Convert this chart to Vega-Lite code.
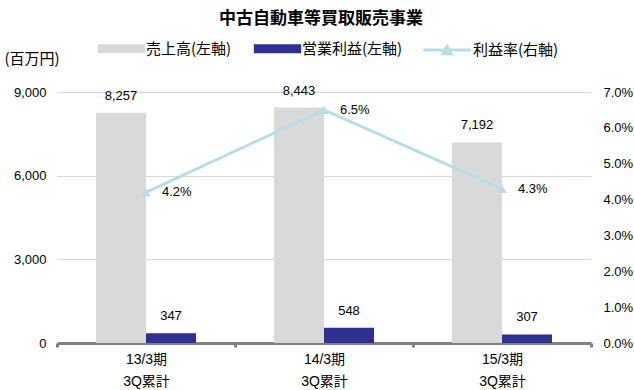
{
  "$schema": "https://vega.github.io/schema/vega-lite/v6.json",
  "width": 534,
  "height": 251,
  "autosize": "none",
  "padding": {"left": 57, "top": 92, "right": 43, "bottom": 47},
  "background": "white",
  "config": {
    "font": "Liberation Sans, Noto Sans CJK JP",
    "view": {"stroke": null}
  },
  "title": {
    "text": "中古自動車等買取販売事業",
    "font": "Noto Sans CJK JP",
    "fontSize": 17,
    "fontWeight": "bold",
    "color": "#000000",
    "anchor": "middle",
    "dx": -3,
    "offset": 2
  },
  "datasets": {
    "bars": [
      {"period": "13/3期 3Q累計", "series": "売上高(左軸)", "value": 8257},
      {"period": "13/3期 3Q累計", "series": "営業利益(左軸)", "value": 347},
      {"period": "14/3期 3Q累計", "series": "売上高(左軸)", "value": 8443},
      {"period": "14/3期 3Q累計", "series": "営業利益(左軸)", "value": 548},
      {"period": "15/3期 3Q累計", "series": "売上高(左軸)", "value": 7192},
      {"period": "15/3期 3Q累計", "series": "営業利益(左軸)", "value": 307}
    ],
    "rates": [
      {"period": "13/3期 3Q累計", "series": "利益率(右軸)", "rate": 0.042},
      {"period": "14/3期 3Q累計", "series": "利益率(右軸)", "rate": 0.065},
      {"period": "15/3期 3Q累計", "series": "利益率(右軸)", "rate": 0.043}
    ]
  },
  "encoding": {
    "x": {
      "field": "period",
      "type": "nominal",
      "sort": null,
      "scale": {"paddingInner": 0, "paddingOuter": 0},
      "axis": {
        "title": null,
        "labelAngle": 0,
        "labelExpr": "split(datum.label, ' ')",
        "labelFont": "Liberation Sans, Noto Sans CJK JP",
        "labelFontSize": 14,
        "labelColor": "#000000",
        "labelLineHeight": 22,
        "labelPadding": 5,
        "labelBaseline": "top",
        "domainColor": "#808080",
        "domainWidth": 3,
        "tickBand": "extent",
        "tickColor": "#808080",
        "tickWidth": 3,
        "tickSize": 4
      }
    }
  },
  "layer": [
    {
      "data": {"name": "bars"},
      "encoding": {
        "xOffset": {
          "field": "series",
          "type": "nominal",
          "sort": ["売上高(左軸)", "営業利益(左軸)"],
          "scale": {"paddingInner": 0, "paddingOuter": 0.78}
        },
        "y": {
          "field": "value",
          "type": "quantitative",
          "scale": {"domain": [0, 9000], "nice": false},
          "axis": {
            "title": "(百万円)",
            "titleAngle": 0,
            "titleAlign": "left",
            "titleBaseline": "middle",
            "titleX": -53,
            "titleY": -34,
            "titleFont": "Noto Sans CJK JP",
            "titleFontSize": 15,
            "titleFontWeight": "normal",
            "titleColor": "#000000",
            "values": [0, 3000, 6000, 9000],
            "format": ",d",
            "labelFontSize": 13,
            "labelColor": "#000000",
            "labelPadding": 11,
            "domain": false,
            "ticks": false,
            "grid": true,
            "gridColor": "#D9D9D9",
            "gridWidth": 1
          }
        }
      },
      "layer": [
        {
          "mark": {"type": "bar"},
          "encoding": {
            "color": {
              "field": "series",
              "type": "nominal",
              "scale": {
                "domain": ["売上高(左軸)", "営業利益(左軸)"],
                "range": ["#D9D9D9", "#2E3192"]
              },
              "legend": {
                "title": null,
                "orient": "none",
                "legendX": 46,
                "legendY": -62,
                "direction": "horizontal",
                "labelFont": "Noto Sans CJK JP",
                "labelFontSize": 15,
                "labelColor": "#000000",
                "labelOffset": 6,
                "columnPadding": 21,
                "symbolSize": 1369,
                "symbolStrokeWidth": 0,
                "encode": {
                  "symbols": {
                    "update": {
                      "shape": {"value": "M-1.28,-0.24H1.28V0.24H-1.28Z"},
                      "strokeWidth": {"value": 0}
                    }
                  }
                }
              }
            }
          }
        },
        {
          "mark": {"type": "text", "baseline": "middle", "dy": -17, "fontSize": 13, "color": "#000000"},
          "encoding": {
            "text": {"field": "value", "type": "quantitative", "format": ","}
          }
        }
      ]
    },
    {
      "data": {"name": "rates"},
      "encoding": {
        "y": {
          "field": "rate",
          "type": "quantitative",
          "scale": {"domain": [0, 0.07], "nice": false},
          "axis": {
            "orient": "right",
            "title": null,
            "values": [0, 0.01, 0.02, 0.03, 0.04, 0.05, 0.06, 0.07],
            "format": ".1%",
            "labelFontSize": 13,
            "labelColor": "#000000",
            "labelPadding": 12,
            "labelOverlap": false,
            "labelFlush": false,
            "labelBound": false,
            "domain": false,
            "ticks": false,
            "grid": false
          }
        }
      },
      "layer": [
        {
          "mark": {"type": "line", "strokeWidth": 3},
          "encoding": {
            "stroke": {
              "field": "series",
              "type": "nominal",
              "scale": {"domain": ["利益率(右軸)"], "range": ["#B7DEE8"]},
              "legend": {
                "title": null,
                "orient": "none",
                "legendX": 370,
                "legendY": -62,
                "direction": "horizontal",
                "labelFont": "Noto Sans CJK JP",
                "labelFontSize": 15,
                "labelColor": "#000000",
                "labelOffset": 6,
                "symbolSize": 1369,
                "symbolStrokeWidth": 3,
                "encode": {
                  "symbols": {
                    "update": {
                      "shape": {"value": "M-1.28,0H1.28M-0.22,0.2L0,-0.2L0.22,0.2Z"},
                      "fill": {"value": "#B7DEE8"},
                      "stroke": {"value": "#B7DEE8"},
                      "strokeWidth": {"value": 3},
                      "opacity": {"value": 1}
                    }
                  }
                }
              }
            }
          }
        },
        {
          "mark": {"type": "point", "shape": "triangle-up", "filled": true, "color": "#B7DEE8", "size": 90, "opacity": 1}
        },
        {
          "mark": {"type": "text", "align": "left", "baseline": "middle", "dx": 16, "fontSize": 13, "color": "#000000"},
          "encoding": {
            "text": {"field": "rate", "type": "quantitative", "format": ".1%"}
          }
        }
      ]
    }
  ],
  "resolve": {"scale": {"y": "independent"}}
}
